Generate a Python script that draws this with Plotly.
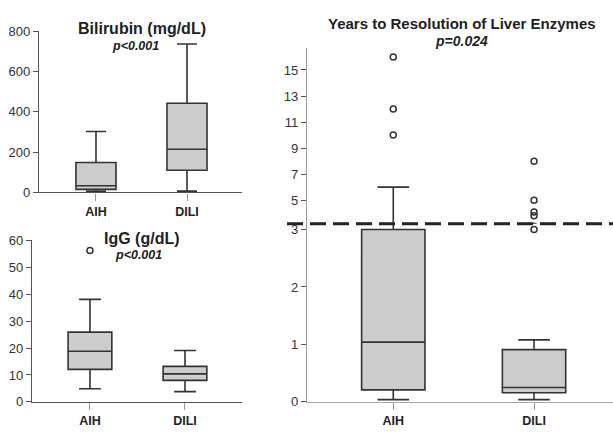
import plotly.graph_objects as go

W, H = 613, 435

groups = ["AIH", "DILI"]

# Bilirubin (mg/dL)
bili_lower = [5, 6]
bili_q1 = [15, 110]
bili_median = [33, 214]
bili_q3 = [148, 442]
bili_upper = [302, 736]

# IgG (g/dL)
igg_lower = [4.9, 3.8]
igg_q1 = [12.1, 8.0]
igg_median = [18.8, 10.4]
igg_q3 = [25.9, 13.2]
igg_upper = [38.1, 19.1]
igg_out_aih = [56.2]

# Years to resolution of liver enzymes
yrs_lower = [0.04, 0.04]
yrs_q1 = [0.21, 0.16]
yrs_median = [1.04, 0.25]
yrs_q3 = [3.0, 0.91]
yrs_upper = [6.0, 1.08]
yrs_out_aih = [10, 12, 16]
yrs_out_dili = [3.0, 3.8, 4.1, 5.0, 8.0]

FILL = "#cdcdcd"
EDGE = "#333333"
FONT = "Liberation Sans, Arial, sans-serif"


def px_x(p):
    return p / W


def px_y(p):
    return 1 - p / H


fig = go.Figure()


def add_box(lo, q1, med, q3, up, xa, ya, width):
    fig.add_trace(go.Box(
        x=[0, 1], q1=q1, median=med, q3=q3, lowerfence=lo, upperfence=up,
        xaxis=xa, yaxis=ya, width=width, whiskerwidth=0.5,
        fillcolor=FILL, line=dict(color=EDGE, width=1.6),
        boxpoints=False, showlegend=False, hoverinfo="skip",
    ))


def add_out(xpos, vals, xa, ya):
    fig.add_trace(go.Scatter(
        x=[xpos] * len(vals), y=vals, mode="markers", xaxis=xa, yaxis=ya,
        marker=dict(symbol="circle-open", size=6, color=EDGE, line=dict(width=1.5)),
        showlegend=False, hoverinfo="skip", cliponaxis=True,
    ))


add_box(bili_lower, bili_q1, bili_median, bili_q3, bili_upper, "x", "y", 0.44)
add_box(igg_lower, igg_q1, igg_median, igg_q3, igg_upper, "x2", "y2", 0.46)
add_out(0, igg_out_aih, "x2", "y2")
# broken axis: lower part and upper part
add_box(yrs_lower, yrs_q1, yrs_median, yrs_q3, yrs_upper, "x3", "y3", 0.45)
add_box(yrs_lower, yrs_q1, yrs_median, yrs_q3, yrs_upper, "x3", "y4", 0.45)
for ya in ["y3", "y4"]:
    add_out(0, yrs_out_aih, "x3", ya)
    add_out(1, yrs_out_dili, "x3", ya)

tickfont = dict(family=FONT, size=13, color="#333333")
catfont = dict(family=FONT, size=12.5, color="#222222")


def xaxis_cfg(dom, rng, anchor, linecolor):
    return dict(domain=dom, range=rng, anchor=anchor, tickvals=[0, 1],
                ticktext=["<b>AIH</b>", "<b>DILI</b>"], tickfont=catfont,
                showgrid=False, zeroline=False, showline=True, linecolor=linecolor,
                linewidth=1.3, ticks="outside", ticklen=7, tickcolor="#999999",
                tickwidth=1.2)


def yaxis_cfg(dom, rng, anchor, tickvals, linecolor):
    return dict(domain=dom, range=rng, anchor=anchor, tickvals=tickvals,
                tickfont=tickfont, showgrid=False, zeroline=False, showline=True,
                linecolor=linecolor, linewidth=1.3, ticks="outside", ticklen=5,
                tickcolor="#555555", tickwidth=1.2)


brk = 224.5
fig.update_layout(
    width=W, height=H, margin=dict(l=0, r=0, t=0, b=0),
    paper_bgcolor="white", plot_bgcolor="white",
    xaxis=xaxis_cfg([px_x(39), px_x(242)], [-0.626, 1.604], "y", "#555555"),
    yaxis=yaxis_cfg([px_y(192), px_y(25)], [0, 800], "x", [0, 200, 400, 600, 800], "#555555"),
    xaxis2=xaxis_cfg([px_x(32), px_x(242)], [-0.61, 1.6], "y2", "#555555"),
    yaxis2=yaxis_cfg([px_y(409), px_y(241.7)], [0, 60], "x2", [0, 10, 20, 30, 40, 50, 60], "#555555"),
    xaxis3=xaxis_cfg([px_x(307), 1.0], [-0.613, 1.561], "y3", "#aaaaaa"),
    yaxis3=yaxis_cfg([px_y(409), px_y(brk)], [0, 3.1], "x3", [0, 1, 2, 3], "#999999"),
    yaxis4=yaxis_cfg([px_y(brk), px_y(42.7)], [3.19, 16.67], "x3", [5, 7, 9, 11, 13, 15], "#999999"),
)

fig.add_shape(type="line", xref="paper", yref="paper",
              x0=px_x(287), x1=1.0, y0=px_y(brk), y1=px_y(brk),
              line=dict(color="#222222", width=3, dash="16px,7px"))


def ann(text, x, y, size, italic=False):
    t = f"<b><i>{text}</i></b>" if italic else f"<b>{text}</b>"
    fig.add_annotation(text=t, xref="paper", yref="paper", x=px_x(x), y=px_y(y),
                       xanchor="center", yanchor="middle", showarrow=False,
                       font=dict(family=FONT, size=size, color="#222222"))


ann("Bilirubin (mg/dL)", 142, 22.5, 16)
ann("p&lt;0.001", 135, 40, 12.5, italic=True)
ann("IgG (g/dL)", 142, 240, 16)
ann("p&lt;0.001", 138, 257, 12.5, italic=True)
ann("Years to Resolution of Liver Enzymes", 461.7, 17.5, 15)
ann("p=0.024", 461.7, 35, 14, italic=True)

fig.write_html(
    "out.html",
    config={"displayModeBar": False},
    post_script="document.body.style.margin='0';document.body.style.padding='0';"
                "document.body.style.overflow='hidden';",
)
